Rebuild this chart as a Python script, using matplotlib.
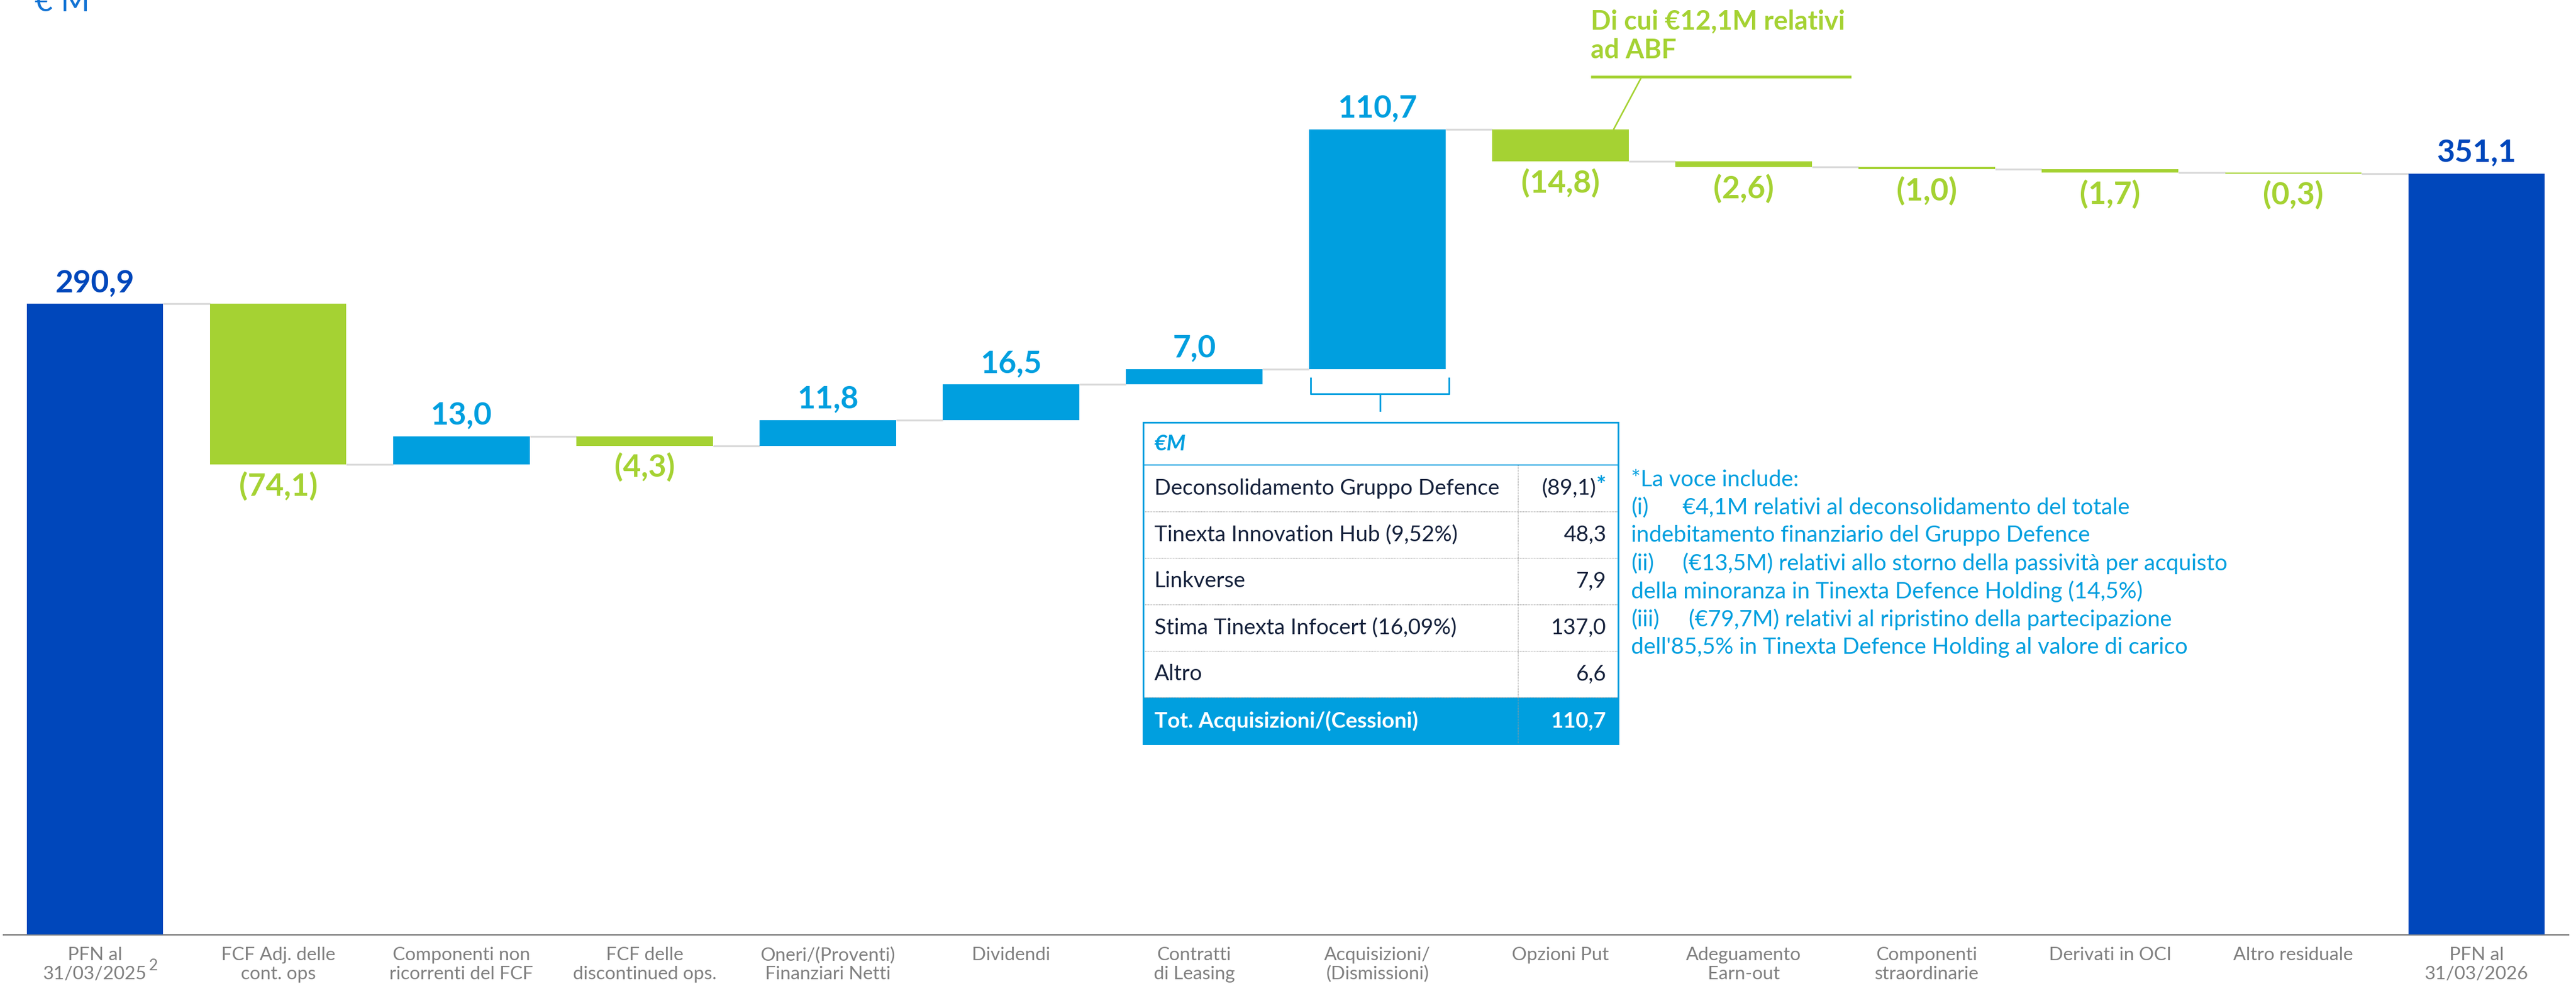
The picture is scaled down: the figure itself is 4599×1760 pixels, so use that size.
import matplotlib
matplotlib.use("Agg")
import matplotlib.pyplot as plt
from matplotlib.patches import Rectangle

W, H, DPI = 4599, 1760, 100

# --- data ---
categories = [
    "PFN al\n31/03/2025", "FCF Adj. delle\ncont. ops", "Componenti non\nricorrenti del FCF",
    "FCF delle\ndiscontinued ops.", "Oneri/(Proventi)\nFinanziari Netti", "Dividendi",
    "Contratti\ndi Leasing", "Acquisizioni/\n(Dismissioni)", "Opzioni Put",
    "Adeguamento\nEarn-out", "Componenti\nstraordinarie", "Derivati in OCI",
    "Altro residuale", "PFN al\n31/03/2026",
]
values = [290.9, -74.1, 13.0, -4.3, 11.8, 16.5, 7.0, 110.7, -14.8, -2.6, -1.0, -1.7, -0.3, 351.1]
is_total = [True] + [False] * 12 + [True]

table_labels = ["Deconsolidamento Gruppo Defence", "Tinexta Innovation Hub (9,52%)",
                "Linkverse", "Stima Tinexta Infocert (16,09%)", "Altro"]
table_values = ["(89,1)", "48,3", "7,9", "137,0", "6,6"]
table_total = ("Tot. Acquisizioni/(Cessioni)", "110,7")

# footnote: (prefix, text) - prefix sits in a tab column
footnote_lines = [
    ("", "*La voce include:"),
    ("(i)", "€4,1M relativi al deconsolidamento del totale"),
    ("", "indebitamento finanziario del Gruppo Defence"),
    ("(ii)", "(€13,5M) relativi allo storno della passività per acquisto"),
    ("", "della minoranza in Tinexta Defence Holding (14,5%)"),
    ("(iii)", "(€79,7M) relativi al ripristino della partecipazione"),
    ("", "dell'85,5% in Tinexta Defence Holding al valore di carico"),
]
abf_note = ["Di cui €12,1M relativi", "ad ABF"]

# colours
DARK = "#0047BB"
LIGHT = "#009FDF"
GREEN = "#A5D233"
GREY = "#808080"
NAVY = "#15213B"

plt.rcParams["font.family"] = ["Lato", "DejaVu Sans"]

fig = plt.figure(figsize=(W / DPI, H / DPI), dpi=DPI)
ax = fig.add_axes([6 / W, (H - 1668) / H, 4579 / W, 1625 / H])

# waterfall geometry
bottoms, heights, colors, levels = [], [], [], []
running = 0.0
for v, tot in zip(values, is_total):
    if tot:
        bottoms.append(0)
        heights.append(v)
        colors.append(DARK)
        running = v
    else:
        bottoms.append(min(running, running + v))
        heights.append(abs(v))
        colors.append(LIGHT if v > 0 else GREEN)
        running += v
    levels.append(running)

bw = 0.745
x = list(range(len(values)))
ax.bar(x, heights, bottom=bottoms, width=bw, color=colors, zorder=3)

# connectors
for i in range(len(values) - 1):
    ax.plot([i + bw / 2, i + 1 - bw / 2], [levels[i], levels[i]],
            color="#D9D9D9", lw=2.4, zorder=2, solid_capstyle="butt")

# value labels
for i, (v, tot) in enumerate(zip(values, is_total)):
    txt = f"{abs(v):.1f}".replace(".", ",")
    if v < 0:
        txt = f"({txt})"
        ax.annotate(txt, (i, bottoms[i]), xytext=(0, -9), textcoords="offset points",
                    ha="center", va="top", fontsize=40, fontweight="bold", color=GREEN)
    else:
        c = DARK if tot else LIGHT
        ax.annotate(txt, (i, bottoms[i] + heights[i]), xytext=(0, 9), textcoords="offset points",
                    ha="center", va="bottom", fontsize=40, fontweight="bold", color=c)

ax.set_xlim(-0.5, len(values) - 0.5)
ax.set_ylim(0, 420)
ax.set_yticks([])
ax.set_xticks(x)
ax.set_xticklabels(categories, fontsize=24, color=GREY, linespacing=1.15)
ax.tick_params(axis="x", length=0, pad=16)
for s in ["top", "right", "left"]:
    ax.spines[s].set_visible(False)
ax.spines["bottom"].set_color("#8C8C8C")
ax.spines["bottom"].set_linewidth(2.2)

# leader from the ABF note to the Opzioni Put bar
ax.annotate("", xy=(8.29, levels[7]), xycoords="data",
            xytext=(2931, H - 137), textcoords="figure pixels",
            arrowprops=dict(arrowstyle="-", color=GREEN, lw=2, shrinkA=0, shrinkB=0))

# overlay in pixel coordinates (y downwards)
ov = fig.add_axes([0, 0, 1, 1], zorder=5)
ov.set_xlim(0, W)
ov.set_ylim(H, 0)
ov.axis("off")
ov.patch.set_alpha(0)

ov.text(62, 20, "€ M", fontsize=40, color="#1273D4", va="baseline", ha="left")
ov.text(266, 1724, "2", fontsize=20, color=GREY, va="center", ha="left")

# ABF note
for k, line in enumerate(abf_note):
    ov.text(2840, 52 + k * 52, line, fontsize=34, fontweight="bold", color=GREEN,
            va="baseline", ha="left")
ov.plot([2840, 3305], [137, 137], color=GREEN, lw=3.5, solid_capstyle="butt")

# bracket under Acquisizioni bar
bx0, bx1 = 2340, 2587
ov.plot([bx0, bx0, bx1, bx1], [675, 703, 703, 675], color=LIGHT, lw=2.2)
ov.plot([(bx0 + bx1) / 2] * 2, [703, 733], color=LIGHT, lw=2.2)

# table
tx0, tx1, ty0 = 2041, 2889, 754
head_h, row_h = 76, 83
col_x = 2710
n = len(table_labels) + 1
ty1 = ty0 + head_h + n * row_h
ov.add_patch(Rectangle((tx0, ty0 + head_h + (n - 1) * row_h), tx1 - tx0, row_h,
                       facecolor=LIGHT, edgecolor="none", zorder=1))
ov.add_patch(Rectangle((tx0, ty0), tx1 - tx0, ty1 - ty0, facecolor="none",
                       edgecolor=LIGHT, lw=2.2, zorder=3))
ov.plot([tx0, tx1], [ty0 + head_h] * 2, color=LIGHT, lw=1.5, zorder=3)
for k in range(1, n):
    yy = ty0 + head_h + k * row_h
    ov.plot([tx0, tx1], [yy, yy], color="#9A9A9A", lw=1, ls=(0, (1, 1)), zorder=2)
ov.plot([col_x, col_x], [ty0 + head_h, ty1], color="#9A9A9A", lw=1, ls=(0, (1, 1)), zorder=2)

ov.text(tx0 + 20, ty0 + head_h / 2, "€M", fontsize=28, fontstyle="italic",
        fontweight="bold", color=LIGHT, va="center", ha="left")
for k, (lab, val) in enumerate(zip(table_labels, table_values)):
    yc = ty0 + head_h + (k + 0.5) * row_h
    ov.text(tx0 + 20, yc, lab, fontsize=28, color=NAVY, va="center", ha="left")
    if k == 0:
        ov.text(tx1 - 40, yc, val, fontsize=28, color=NAVY, va="center", ha="right")
        ov.text(tx1 - 39, yc - 4, "*", fontsize=30, fontweight="bold", color=LIGHT,
                va="center", ha="left")
    else:
        ov.text(tx1 - 21, yc, val, fontsize=28, color=NAVY, va="center", ha="right")
yc = ty0 + head_h + (n - 0.5) * row_h
ov.text(tx0 + 20, yc, table_total[0], fontsize=28, fontweight="bold", color="white",
        va="center", ha="left", zorder=4)
ov.text(tx1 - 21, yc, table_total[1], fontsize=28, fontweight="bold", color="white",
        va="center", ha="right", zorder=4)

# footnote
fx = 2912
tab = {"(i)": 92, "(ii)": 92, "(iii)": 103}
for k, (pre, line) in enumerate(footnote_lines):
    yy = 856 + k * 50
    if pre:
        ov.text(fx, yy, pre, fontsize=29, color=LIGHT, va="center", ha="left")
        ov.text(fx + tab[pre], yy, line, fontsize=29, color=LIGHT, va="center", ha="left")
    else:
        ov.text(fx, yy, line, fontsize=29, color=LIGHT, va="center", ha="left")

fig.savefig("out.png", dpi=DPI)
